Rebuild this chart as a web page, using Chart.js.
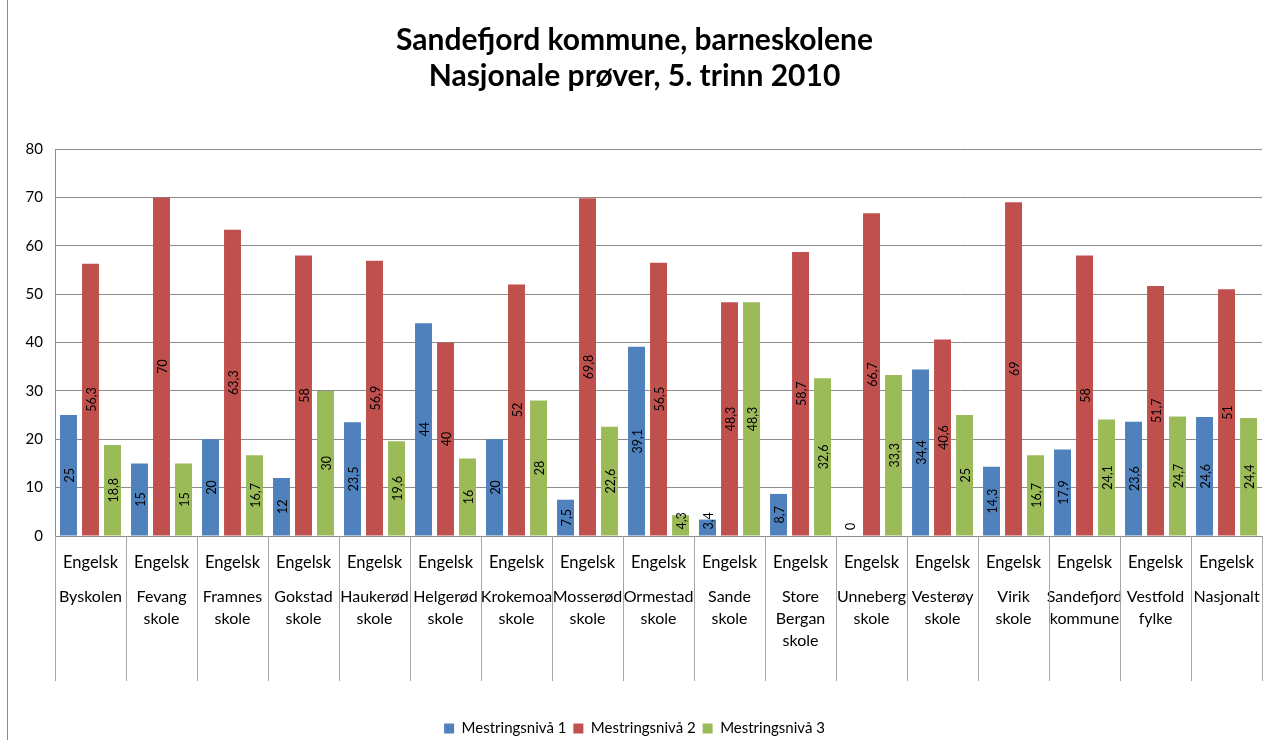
<!DOCTYPE html>
<html>
<head>
<meta charset="utf-8">
<script src="https://cdn.jsdelivr.net/npm/chart.js@4"></script>
<style>
  body { margin:0; background:#fff; }
  #wrap { position:relative; width:1275px; height:740px; }
  #kant { position:absolute; left:7px; top:0; width:1px; height:740px; background:#8c8c8c; }
</style>
</head>
<body>
<div id="wrap">
  <canvas id="grafico" width="1275" height="740"></canvas>
  <div id="kant"></div>
</div>
<script>
// data lest av fra figuren
const fag = ["Engelsk","Engelsk","Engelsk","Engelsk","Engelsk","Engelsk","Engelsk","Engelsk","Engelsk",
             "Engelsk","Engelsk","Engelsk","Engelsk","Engelsk","Engelsk","Engelsk","Engelsk"];
const skoler = [["Byskolen"],["Fevang","skole"],["Framnes","skole"],["Gokstad","skole"],["Haukerød","skole"],
  ["Helgerød","skole"],["Krokemoa","skole"],["Mosserød","skole"],["Ormestad","skole"],["Sande","skole"],
  ["Store","Bergan","skole"],["Unneberg","skole"],["Vesterøy","skole"],["Virik","skole"],
  ["Sandefjord","kommune"],["Vestfold","fylke"],["Nasjonalt"]];
const niva1 = [25,15,20,12,23.5,44,20,7.5,39.1,3.4,8.7,0,34.4,14.3,17.9,23.6,24.6];
const niva2 = [56.3,70,63.3,58,56.9,40,52,69.8,56.5,48.3,58.7,66.7,40.6,69,58,51.7,51];
const niva3 = [18.8,15,16.7,30,19.6,16,28,22.6,4.3,48.3,32.6,33.3,25,16.7,24.1,24.7,24.4];
const yTicks = [0,10,20,30,40,50,60,70,80];

const font = "Lato";
const grid = "#8c8c8c";

// tall inne i søylene, rotert
const tallPlugin = {
  id:"tall",
  afterDatasetsDraw(c){
    const ctx = c.ctx;
    ctx.save();
    ctx.font = "12.5px " + font;
    ctx.fillStyle = "#000";
    ctx.textAlign = "center";
    ctx.textBaseline = "middle";
    c.data.datasets.forEach((ds,di)=>{
      c.getDatasetMeta(di).data.forEach((bar,i)=>{
        const txt = String(ds.data[i]).replace(".", ",");
        const half = ctx.measureText(txt).width/2;
        let y = (bar.y + bar.base)/2;
        if(y > bar.base - half - 6) y = bar.base - half - 6;
        ctx.save();
        ctx.translate(bar.x, y);
        ctx.rotate(-Math.PI/2);
        ctx.fillText(txt, 0, 1);
        ctx.restore();
      });
    });
    ctx.restore();
  }
};

// skillelinjer mellom kategoriene under aksen
const skillePlugin = {
  id:"skille",
  afterDraw(c){
    const x = c.scales.x;
    const ctx = c.ctx;
    const w = x.getPixelForValue(1) - x.getPixelForValue(0);
    ctx.save();
    ctx.strokeStyle = "#a6a6a6";
    ctx.lineWidth = 1;
    for(let i=0;i<=fag.length;i++){
      const px = Math.round(x.getPixelForValue(0) - w/2 + i*w) + 0.5;
      ctx.beginPath();
      ctx.moveTo(px, x.top);
      ctx.lineTo(px, x.top + 145);
      ctx.stroke();
    }
    ctx.restore();
  }
};

new Chart(document.getElementById("grafico"), {
  type:"bar",
  data:{
    labels:fag,
    datasets:[
      {label:"Mestringsnivå 1", data:niva1, backgroundColor:"#4f81bd"},
      {label:"Mestringsnivå 2", data:niva2, backgroundColor:"#c0504d"},
      {label:"Mestringsnivå 3", data:niva3, backgroundColor:"#9bbb59"}
    ]
  },
  options:{
    responsive:false,
    animation:false,
    categoryPercentage:0.93,
    barPercentage:0.77,
    layout:{padding:{left:0,right:6,top:0,bottom:-6}},
    plugins:{
      title:{
        display:true,
        text:["Sandefjord kommune, barneskolene","Nasjonale prøver, 5. trinn 2010"],
        font:{family:font, size:30, weight:"bold", lineHeight:35.5/30},
        color:"#000",
        padding:{top:23, bottom:55}
      },
      legend:{
        position:"bottom",
        labels:{font:{family:font, size:15}, color:"#000", boxWidth:10, boxHeight:10, padding:7}
      },
      tooltip:{enabled:false}
    },
    scales:{
      y:{
        min:0, max:80,
        afterFit(s){ s.width = 55; },
        afterBuildTicks(s){ s.ticks = yTicks.map(v=>({value:v})); },
        ticks:{font:{family:font, size:15}, color:"#000", padding:12},
        grid:{color:grid, drawTicks:false},
        border:{color:grid}
      },
      x:{
        afterFit(s){ s.height = 35; },
        ticks:{font:{family:font, size:16.5}, color:"#000", autoSkip:false, maxRotation:0, minRotation:0, padding:17},
        grid:{display:false, drawTicks:false},
        border:{display:true, color:grid}
      },
      x2:{
        type:"category",
        position:"bottom",
        offset:true,
        labels:skoler,
        afterFit(s){ s.height = 143; },
        ticks:{font:{family:font, size:16, lineHeight:22/16}, color:"#000", autoSkip:false, maxRotation:0, minRotation:0, padding:15},
        grid:{display:false, drawTicks:false},
        border:{display:false}
      }
    }
  },
  plugins:[tallPlugin, skillePlugin]
});
</script>
</body>
</html>
